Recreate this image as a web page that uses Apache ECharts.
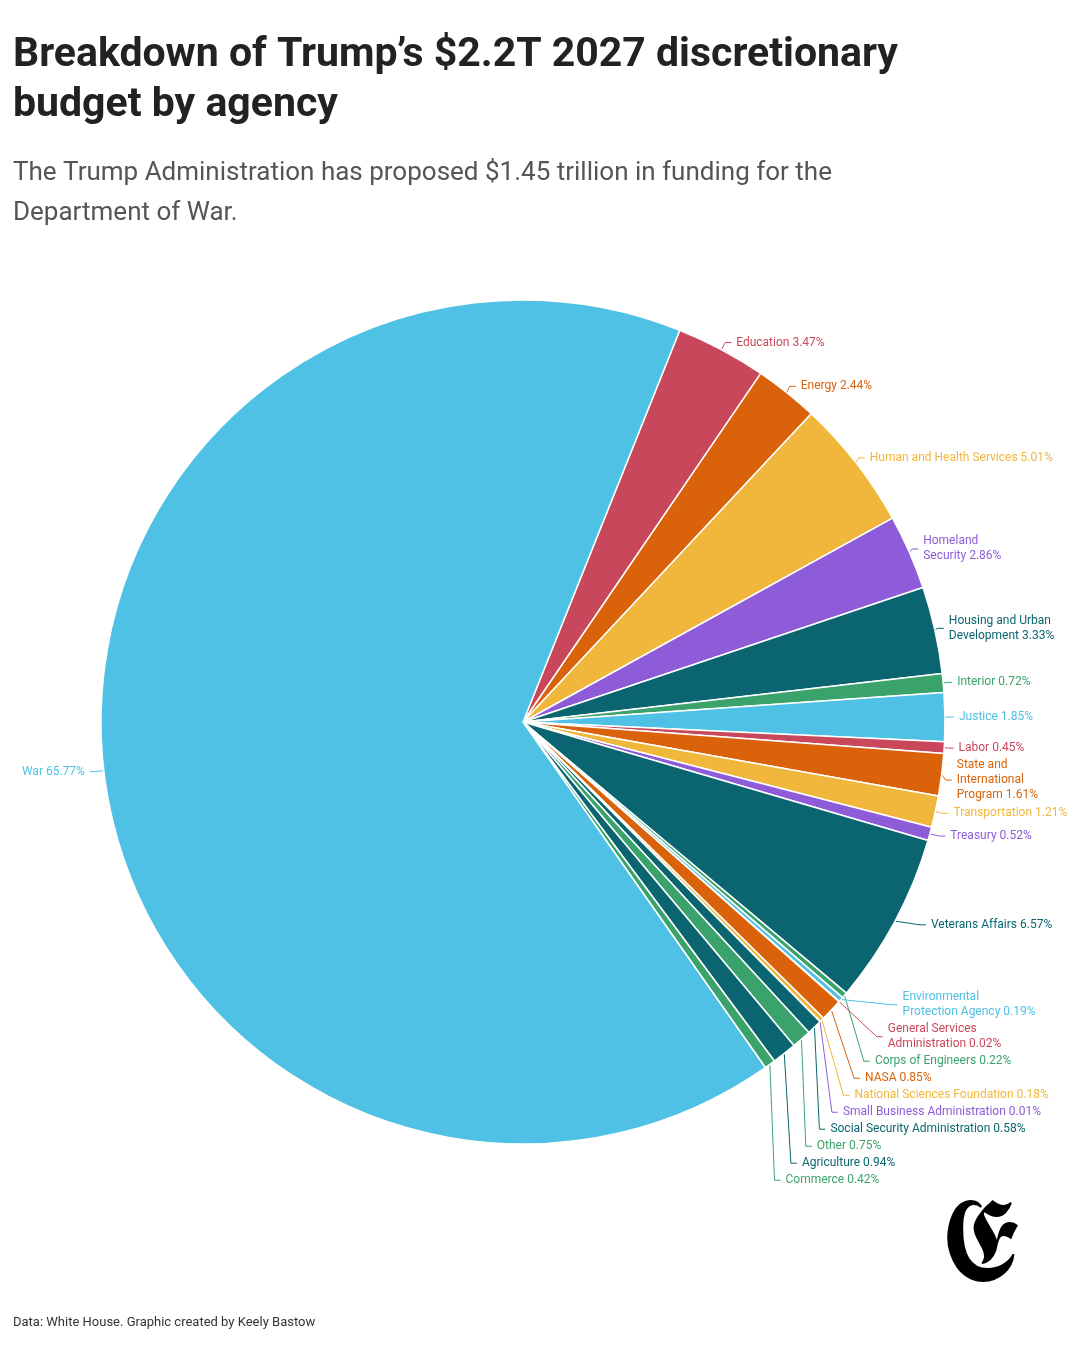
<!DOCTYPE html>
<html><head><meta charset="utf-8">
<script src="https://cdn.jsdelivr.net/npm/echarts@6/dist/echarts.min.js"></script>
<style>body{margin:0;background:#fff}#c{width:1080px;height:1350px}</style>
</head><body><div id="c"></div>
<script>
const categories=["Education","Energy","Human and Health Services","Homeland\nSecurity","Housing and Urban\nDevelopment","Interior","Justice","Labor","State and\nInternational\nProgram","Transportation","Treasury","Veterans Affairs","Corps of Engineers","Environmental\nProtection Agency","General Services\nAdministration","NASA","National Sciences Foundation","Small Business Administration","Social Security Administration","Other","Agriculture","Commerce","War"];
const values=[3.47,2.44,5.01,2.86,3.33,0.72,1.85,0.45,1.61,1.21,0.52,6.57,0.22,0.19,0.02,0.85,0.18,0.01,0.58,0.75,0.94,0.42,65.77];
const R='#c9475a',O='#d9620a',Y='#f0b73c',P='#8e5cd9',T='#0b6570',G='#3aa36b',B='#4fc1e5';
const colors=[R,O,Y,P,T,G,B,R,O,Y,P,T,G,B,R,O,Y,P,T,G,T,G,B];
const chart=echarts.init(document.getElementById('c'));
chart.setOption({
 animation:false,
 title:[
  {text:"Breakdown of Trump’s $2.2T 2027 discretionary\nbudget by agency",left:8,top:26,textStyle:{fontFamily:'Roboto',fontWeight:'bold',fontSize:41,lineHeight:50,color:'#222'}},
  {text:"The Trump Administration has proposed $1.45 trillion in funding for the\nDepartment of War.",left:8,top:148,textStyle:{fontFamily:'Roboto',fontWeight:'normal',fontSize:26,lineHeight:40,color:'#555'}},
  {text:"Data: White House. Graphic created by Keely Bastow",left:8,top:1311,textStyle:{fontFamily:'Roboto',fontWeight:'normal',fontSize:13,color:'#333'}},
  {text:"𝕰",left:935,top:1185,textStyle:{fontFamily:'DejaVu Serif',fontSize:120,fontWeight:'normal',color:'#000'}}
 ],
 series:[{type:'pie',center:[523,722],radius:[0,422],startAngle:68.2,clockwise:true,
  itemStyle:{borderColor:'#fff',borderWidth:1.5},
  label:{fontFamily:'Roboto',fontSize:12,lineHeight:15,overflow:'none',formatter:p=>p.name+' '+p.value.toFixed(2)+'%'},
  labelLine:{length:8,length2:6},
  avoidLabelOverlap:true,
  data:categories.map((c,i)=>({name:c,value:values[i],itemStyle:{color:colors[i]},label:{color:colors[i]},labelLine:{lineStyle:{color:colors[i]}}}))
 }]
});
</script></body></html>
